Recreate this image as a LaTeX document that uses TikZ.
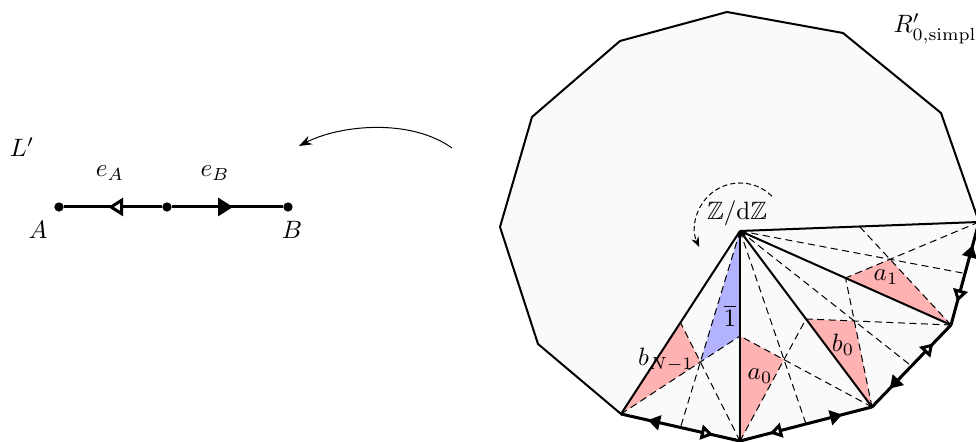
\documentclass[tikz,border=0pt]{standalone}
\usepackage{amsmath,amssymb}
\usepackage{tikz}
\usetikzlibrary{calc,arrows.meta,decorations.markings}

\tikzset{
  Aend/.style={postaction={decorate, decoration={markings,
    mark=at position 0.55 with {\arrow{Triangle[fill=white,length=1.5mm,width=1.8mm,scale=#1]}}}}},
  Aend/.default=1.15,
  Bend/.style={postaction={decorate, decoration={markings,
    mark=at position 0.55 with {\arrow{Triangle[length=1.5mm,width=1.8mm,scale=#1]}}}}},
  Bend/.default=1.15
}

\begin{document}
\begin{tikzpicture}[x=0.14mm, y=0.14mm,
  dot/.style={circle, fill, inner sep=0pt, minimum size=1.3mm},
  outline/.style={thick, fill=black!2},
  spoke/.style={thick},
  median/.style={thin, dash pattern=on 2.8pt off 1.8pt},
  halfedge/.style={very thick},
  pinkreg/.style={fill=red!30},
  bluereg/.style={fill=blue!30}
]
\useasboundingbox (0,0) rectangle (976,442);

% the graph L'
\node[dot] (ptA) at (59,235) {};
\node[dot] (ptM) at (167,235) {};
\node[dot] (ptB) at (288,235) {};
\draw[halfedge, Aend=1.4] (ptM) -- (ptA);
\draw[halfedge, Bend=1.4] (ptM) -- (ptB);
\node (lblL) at (22,295) {$L'$};
\node (lblEA) at (110,269) {$e_A$};
\node (lblEB) at (215,269) {$e_B$};
\node (lblA) at (38,212) {$A$};
\node (lblB) at (292,212) {$B$};

\coordinate (mapS) at (452,294);
\coordinate (mapE) at (299,296);
\draw[-{Stealth[length=1.8mm,width=1.3mm]}] (mapS) .. controls (410,324) and (340,317) .. (mapE);

% the polygon
\foreach \x/\y [count=\i from 0] in {740/1, 621/28, 538/98, 500/215, 532/325, 620/401,
    727/430, 843/409, 941/329, 979/220, 951/117, 872/35}
  \coordinate (p\i) at (\x,\y);
\coordinate (c) at (740,211);

\draw[outline] (p0) \foreach \i in {1,...,11} { -- (p\i) } -- cycle;

\fill[pinkreg] (p1) -- ($(c)!0.5!(p1)$) -- (barycentric cs:c=1,p1=1,p0=1) -- cycle;
\fill[bluereg] (c) -- ($(c)!0.5!(p0)$) -- (barycentric cs:c=1,p1=1,p0=1) -- cycle;
\fill[pinkreg] (p0) -- ($(c)!0.5!(p0)$) -- (barycentric cs:c=1,p0=1,p11=1) -- cycle;
\fill[pinkreg] (p11) -- ($(c)!0.5!(p11)$) -- (barycentric cs:c=1,p11=1,p10=1) -- cycle;
\fill[pinkreg] (p10) -- ($(c)!0.5!(p10)$) -- (barycentric cs:c=1,p10=1,p9=1) -- cycle;

\foreach \u/\v in {p1/p0, p0/p11, p11/p10, p10/p9} {
  \draw[median] (c) -- ($(\u)!0.5!(\v)$);
  \draw[median] (\u) -- ($(c)!0.5!(\v)$);
  \draw[median] (\v) -- ($(c)!0.5!(\u)$);
}
\foreach \v in {p1,p0,p11,p10,p9}
  \draw[spoke] (c) -- (\v);

% boundary edges, e_B towards b-vertices, e_A towards a-vertices
\foreach \b/\a in {p1/p0, p11/p0, p11/p10, p9/p10} {
  \coordinate (m) at ($(\a)!0.5!(\b)$);
  \draw[halfedge, Bend] (m) -- (\b);
  \draw[halfedge, Aend] (m) -- (\a);
}

\node (lblZ) at (737,229) {$\mathbb{Z}/\mathrm{d}\mathbb{Z}$};
\draw[thin, dash pattern=on 2pt off 1.2pt, -{Stealth[length=1.4mm,width=1.1mm]}]
  ($(c)+(0,3)+(45:45)$) arc[start angle=45, end angle=205, radius=45];

\node (lblOne) at (730,126) {$\overline{1}$};
\node (lblBN) at (666,82) {$b_{N-1}$};
\node (lblA0) at (760,66) {$a_0$};
\node (lblB0) at (843,97) {$b_0$};
\node (lblA1) at (886,165) {$a_1$};
\node[anchor=base west, inner sep=0pt] (lblR) at (893,409) {$R'_{0,\mathrm{simpl}}$};
\end{tikzpicture}
\end{document}
